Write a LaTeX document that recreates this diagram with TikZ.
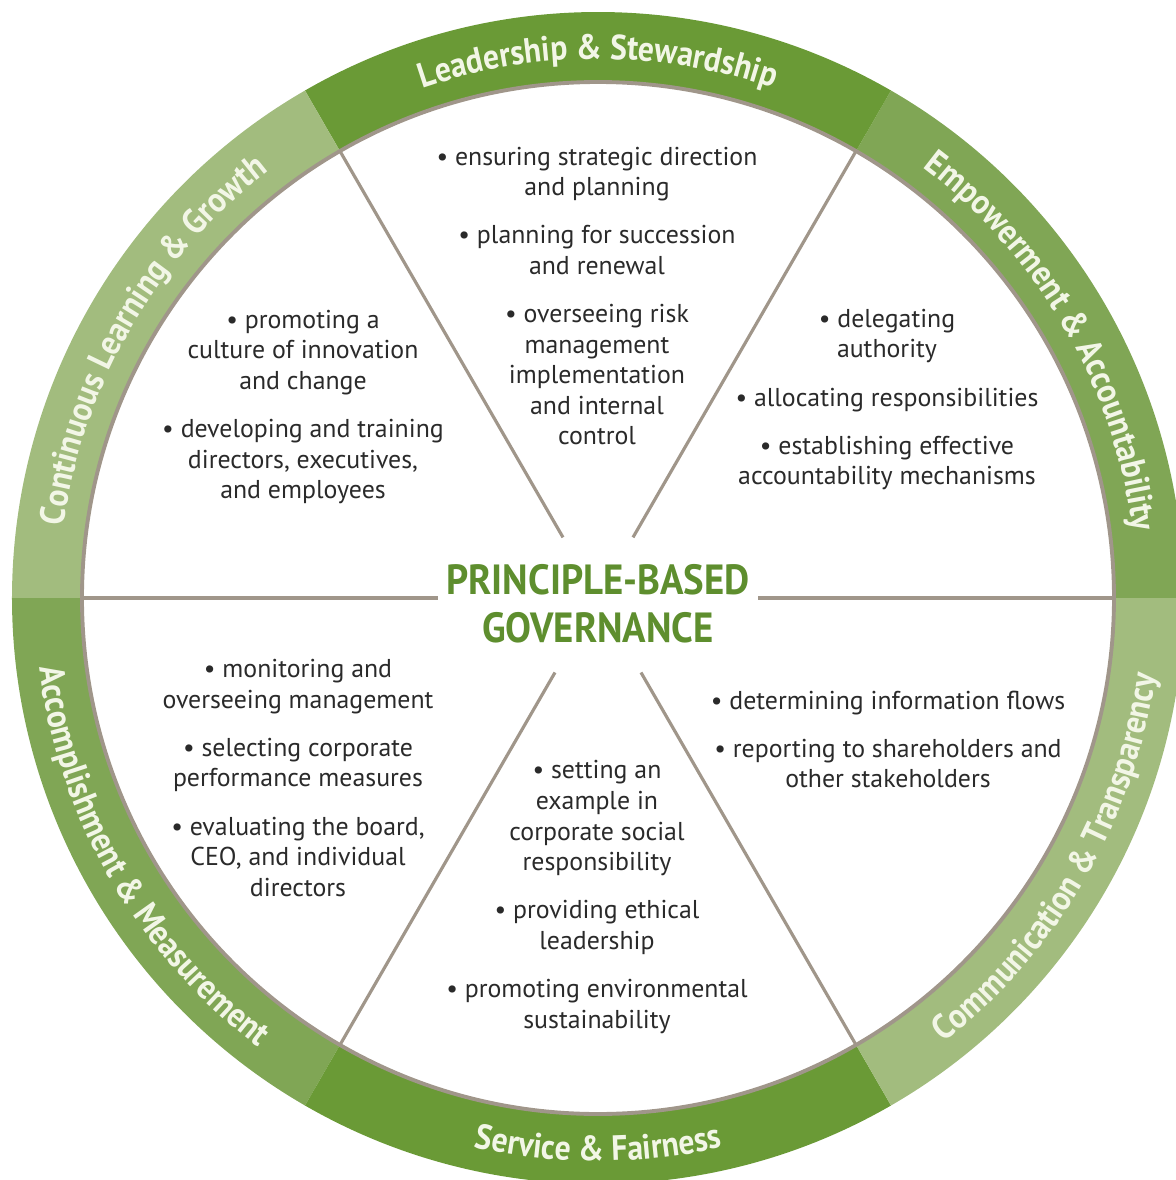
\documentclass[tikz,border=0pt]{standalone}
\usepackage{fontspec}
\usepackage{xcolor}
\usepackage{tikz}
\usetikzlibrary{decorations.text}

\setmainfont{PT Sans}
\newfontfamily\headfont{PT Sans}[FakeStretch=0.92]
\newfontfamily\bandfont{PT Sans}[FakeStretch=0.9]

\definecolor{darkleaf}{HTML}{6A9A36}
\definecolor{midleaf}{HTML}{80A655}
\definecolor{paleleaf}{HTML}{A2BC7E}
\definecolor{spokegray}{HTML}{A0968A}
\definecolor{titlegreen}{HTML}{5E8E2E}
\definecolor{bodytext}{HTML}{2A2A2A}
\definecolor{ringtext}{HTML}{F2F6E6}

\newcommand{\Rout}{11.72}
\newcommand{\Rin}{10.32}
\newcommand{\ringfont}{\bandfont\bfseries\fontsize{20}{20}\selectfont}
% one coloured piece of the outer ring: colour, start angle, end angle
\newcommand{\ringpart}[3]{%
  \fill[#1] (#2:\Rout) arc[start angle=#2, end angle=#3, radius=\Rout]
    -- (#3:\Rin) arc[start angle=#3, end angle=#2, radius=\Rin] -- cycle;}

\begin{document}
\begin{tikzpicture}[
    spoke/.style={draw=spokegray, line width=1.8pt},
    bullets/.style={align=center, inner sep=0pt, text=bodytext, font=\fontsize{14.7}{17.4}\selectfont},
    heading/.style={align=center, inner sep=0pt, text=titlegreen, font=\headfont\bfseries\fontsize{24}{27.3}\selectfont},
    toplabel/.style={decorate, decoration={text along path, text align=center, text color=ringtext}},
]
\useasboundingbox (-11.96,-11.64) rectangle (11.56,11.96);

% Outer ring
\ringpart{midleaf}{0}{60}
\ringpart{darkleaf}{60}{120}
\ringpart{paleleaf}{120}{180}
\ringpart{midleaf}{180}{240}
\ringpart{darkleaf}{240}{300}
\ringpart{paleleaf}{300}{360}
\draw[spoke, line width=2.2pt] (0,0) circle[radius=\Rin];

% Spokes
\draw[spoke] (60:\Rin) -- (60:1.4);
\draw[spoke] (120:\Rin) -- (120:1.4);
\draw[spoke] (180:\Rin) -- (180:3.2);
\draw[spoke] (0:\Rin) -- (0:3.2);
\draw[spoke] (240:\Rin) -- (240:1.72);
\draw[spoke] (300:\Rin) -- (300:1.72);

% Ring labels, upper half read clockwise
\path[toplabel, decoration={text={|\ringfont|Leadership {\&} Stewardship}}]
  (120:10.78) arc[start angle=120, end angle=60, radius=10.78];
\path[toplabel, decoration={text={|\ringfont|Empowerment {\&} Accountability}}]
  (60:10.78) arc[start angle=60, end angle=0, radius=10.78];
\path[toplabel, decoration={text={|\ringfont|Continuous Learning {\&} Growth}}]
  (180:10.78) arc[start angle=180, end angle=120, radius=10.78];

% Ring labels, lower half read counterclockwise
\path[toplabel, decoration={text={|\ringfont|Accomplishment {\&} Measurement}}]
  (180:11.26) arc[start angle=180, end angle=240, radius=11.26];
\path[toplabel, decoration={text={|\ringfont|Service {\&} Fairness}}]
  (240:11.26) arc[start angle=240, end angle=300, radius=11.26];
\path[toplabel, decoration={text={|\ringfont|Communication {\&} Transparency}}]
  (300:11.26) arc[start angle=300, end angle=360, radius=11.26];

% Centre title
\node[heading] (title) at (0,-0.12) {PRINCIPLE-BASED\\GOVERNANCE};

% Duties in each sector
\node[bullets] (leadership) at (-0.02,6.04) {%
  \textbullet\ ensuring strategic direction\\and planning\\[10pt]
  \textbullet\ planning for succession\\and renewal\\[10pt]
  \textbullet\ overseeing risk\\management\\implementation\\and internal\\control};
\node[bullets] (empowerment) at (5.78,3.97) {%
  \textbullet\ delegating\\authority\\[10pt]
  \textbullet\ allocating responsibilities\\[10pt]
  \textbullet\ establishing effective\\accountability mechanisms};
\node[bullets] (learning) at (-5.9,3.82) {%
  \textbullet\ promoting a\\culture of innovation\\and change\\[10pt]
  \textbullet\ developing and training\\directors, executives,\\and employees};
\node[bullets] (accomplishment) at (-6.0,-3.6) {%
  \textbullet\ monitoring and\\overseeing management\\[10pt]
  \textbullet\ selecting corporate\\performance measures\\[10pt]
  \textbullet\ evaluating the board,\\CEO, and individual\\directors};
\node[bullets] (service) at (-0.02,-5.98) {%
  \textbullet\ setting an\\example in\\corporate social\\responsibility\\[10pt]
  \textbullet\ providing ethical\\leadership\\[10pt]
  \textbullet\ promoting environmental\\sustainability};
\node[bullets] (communication) at (5.8,-2.83) {%
  \textbullet\ determining information flows\\[10pt]
  \textbullet\ reporting to shareholders and\\other stakeholders};

\end{tikzpicture}
\end{document}
